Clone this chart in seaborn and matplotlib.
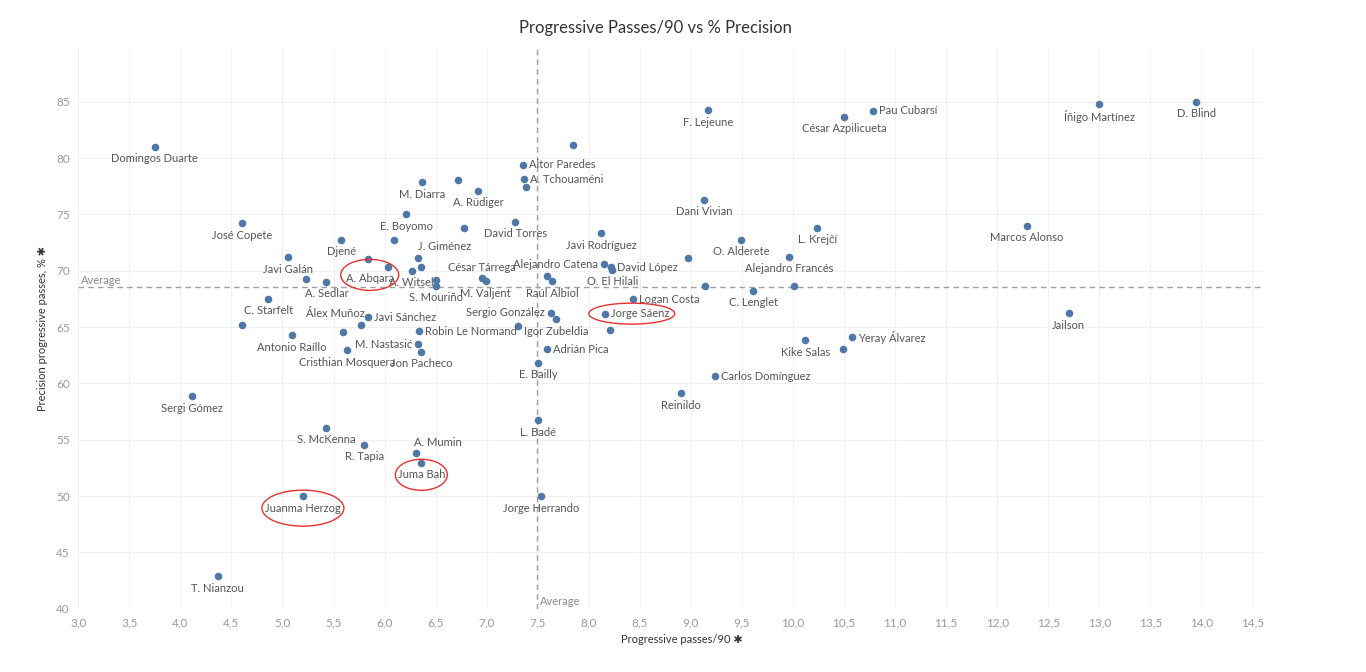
import seaborn as sns
import pandas as pd
from matplotlib import pyplot as plt
from matplotlib.patches import Ellipse
from matplotlib.transforms import IdentityTransform
from matplotlib.ticker import FuncFormatter, MultipleLocator

# players with a visible label
players = ['Domingos Duarte', 'José Copete', 'Javi Galán', 'Djené', 'A. Abqara', 'A. Witsel',
           'E. Boyomo', 'M. Diarra', 'J. Giménez', 'A. Rüdiger', 'S. Mouriño', 'A. Sedlar',
           'C. Starfelt', 'Antonio Raíllo', 'Álex Muñoz', 'Javi Sánchez', 'Cristhian Mosquera',
           'Robin Le Normand', 'M. Nastasić', 'Jon Pacheco', 'Sergi Gómez', 'S. McKenna',
           'R. Tapia', 'A. Mumin', 'Juma Bah', 'Juanma Herzog', 'T. Nianzou', 'Jorge Herrando',
           'Aitor Paredes', 'A. Tchouaméni', 'David Torres', 'Javi Rodríguez', 'César Tárrega',
           'M. Valjent', 'Alejandro Catena', 'Raúl Albiol', 'David López', 'O. El Hilali',
           'Logan Costa', 'Sergio González', 'Igor Zubeldia', 'Jorge Sáenz', 'Adrián Pica',
           'E. Bailly', 'L. Badé', 'Reinildo', 'F. Lejeune', 'César Azpilicueta', 'Pau Cubarsí',
           'Dani Vivian', 'L. Krejčí', 'O. Alderete', 'Alejandro Francés', 'C. Lenglet',
           'Kike Salas', 'Yeray Álvarez', 'Carlos Domínguez', 'Íñigo Martínez', 'D. Blind',
           'Marcos Alonso', 'Jailson']
prog_passes = [3.75, 4.60, 5.05, 5.575, 5.835, 6.265,
               6.21, 6.37, 6.33, 6.92, 6.50, 5.43,
               4.86, 5.09, 5.59, 5.835, 5.63,
               6.34, 6.33, 6.36, 4.11, 5.43,
               5.80, 6.31, 6.36, 5.20, 4.365, 7.535,
               7.36, 7.37, 7.28, 8.12, 6.95,
               6.99, 8.15, 7.64, 8.22, 8.23,
               8.43, 7.63, 7.68, 8.155, 7.59,
               7.505, 7.50, 8.90, 9.17, 10.50, 10.78,
               9.13, 10.24, 9.49, 9.96, 9.61,
               10.12, 10.58, 9.24, 13.00, 13.95,
               12.29, 12.70]
precision = [81.0, 74.2, 71.2, 72.75, 71.06, 70.0,
             75.0, 77.84, 71.18, 77.1, 68.67, 69.02,
             67.5, 64.3, 64.53, 65.86, 62.96,
             64.65, 63.5, 62.8, 58.85, 56.07,
             54.56, 53.8, 52.96, 50.0, 42.87, 50.0,
             79.4, 78.13, 74.35, 73.34, 69.35,
             69.09, 70.6, 69.09, 70.3, 70.1,
             67.49, 66.27, 65.68, 66.2, 63.05,
             61.84, 56.72, 59.15, 84.26, 83.66, 84.2,
             76.3, 73.84, 72.75, 71.24, 68.25,
             63.82, 64.12, 60.65, 84.79, 85.0,
             73.99, 66.25]

# points without a label
other_passes = [6.03, 6.09, 6.36, 6.72, 6.78, 6.50, 5.23, 4.60, 5.77,
                7.85, 7.39, 8.97, 7.59, 7.305, 8.21, 9.14, 10.01, 10.49]
other_precision = [70.35, 72.75, 70.3, 78.05, 73.84, 69.17, 69.23, 65.18, 65.2,
                   81.15, 77.43, 71.1, 69.5, 65.09, 64.76, 68.67, 68.67, 63.1]

avg_passes = 7.49
avg_precision = 68.6

highlighted = ['A. Abqara', 'Jorge Sáenz', 'Juma Bah', 'Juanma Herzog']

df = pd.DataFrame({
    'name': players + [''] * len(other_passes),
    'passes': prog_passes + other_passes,
    'precision': precision + other_precision,
})

# label placement (pixels), default is below the dot
right = ['Aitor Paredes', 'A. Tchouaméni', 'David López', 'Logan Costa', 'Jorge Sáenz',
         'Adrián Pica', 'Robin Le Normand', 'Javi Sánchez', 'Pau Cubarsí', 'Yeray Álvarez',
         'Carlos Domínguez']
left = ['Alejandro Catena', 'Sergio González', 'M. Nastasić']
custom = {'César Tárrega': (0, 11, 'center'), 'A. Abqara': (2, -20, 'center'),
          'J. Giménez': (26, 11, 'center'), 'Álex Muñoz': (-7, 19, 'center'),
          'A. Mumin': (22, 11, 'center')}
ellipse_size = {'A. Abqara': (58, 31, 0, 4), 'Jorge Sáenz': (86, 21, -8, 0),
                'Juma Bah': (52, 31, 0, 0), 'Juanma Herzog': (82, 36, 0, 0)}

sns.set_style('white')
plt.rcParams['font.family'] = ['Lato', 'DejaVu Sans']

fig = plt.figure(figsize=(13.66, 6.72), dpi=100)
ax = fig.add_axes([0.0573, 0.094, 0.867, 0.835])

sns.scatterplot(data=df, x='passes', y='precision', color='#4e79a7', s=30,
                linewidth=0, ax=ax, zorder=3)

ax.set_xlim(3.0, 14.6)
ax.set_ylim(40, 89.8)
ax.xaxis.set_major_locator(MultipleLocator(0.5))
ax.yaxis.set_major_locator(MultipleLocator(5))
ax.xaxis.set_major_formatter(FuncFormatter(lambda v, p: f'{v:.1f}'.replace('.', ',')))
ax.yaxis.set_major_formatter(FuncFormatter(lambda v, p: f'{v:.0f}'))
ax.grid(True, color='#f0f0f0', lw=0.8)
ax.set_axisbelow(True)
for s in ax.spines.values():
    s.set_visible(False)
ax.tick_params(axis='both', length=0, labelsize=8.5, labelcolor='#9a9a9a', pad=6)

ax.axvline(avg_passes, color='#a0a0a0', ls=(0, (4, 3)), lw=1, zorder=2)
ax.axhline(avg_precision, color='#a0a0a0', ls=(0, (4, 3)), lw=1, zorder=2)
ax.annotate('Average', xy=(0, avg_precision), xycoords=('axes fraction', 'data'),
            xytext=(3, 1), textcoords='offset pixels', ha='left', va='bottom',
            fontsize=8, color='#8a8a8a')
ax.annotate('Average', xy=(avg_passes, 0), xycoords=('data', 'axes fraction'),
            xytext=(3, 2), textcoords='offset pixels', ha='left', va='bottom',
            fontsize=8, color='#8a8a8a')

labels = {}
for name, x, y in zip(df['name'], df['passes'], df['precision']):
    if not name:
        continue
    if name in right:
        dx, dy, ha = 6, 0, 'left'
    elif name in left:
        dx, dy, ha = -6, 0, 'right'
    elif name in custom:
        dx, dy, ha = custom[name]
    else:
        dx, dy, ha = 0, -12, 'center'
    labels[name] = ax.annotate(name, (x, y), xytext=(dx, dy), textcoords='offset pixels',
                               ha=ha, va='center', fontsize=8, color='#555555', zorder=4)

ax.set_xlabel('Progressive passes/90 \u2731', fontsize=8, color='#333333')
ax.xaxis.set_label_coords(0.51, -0.045)
ax.set_ylabel('Precision progressive passes, % \u2731', fontsize=8, color='#333333', labelpad=6)
fig.suptitle('Progressive Passes/90 vs % Precision', fontsize=12, color='#333333',
             x=0.48, y=0.97)

fig.canvas.draw()
for name in highlighted:
    bb = labels[name].get_window_extent()
    w, h, ox, oy = ellipse_size[name]
    cx = (bb.x0 + bb.x1) / 2 + ox
    cy = (bb.y0 + bb.y1) / 2 + oy
    fig.patches.append(Ellipse((cx, cy), w, h, transform=IdentityTransform(),
                               fill=False, edgecolor='#e8312f', lw=1, figure=fig))

fig.savefig('out.png', dpi=100)
plt.close()
